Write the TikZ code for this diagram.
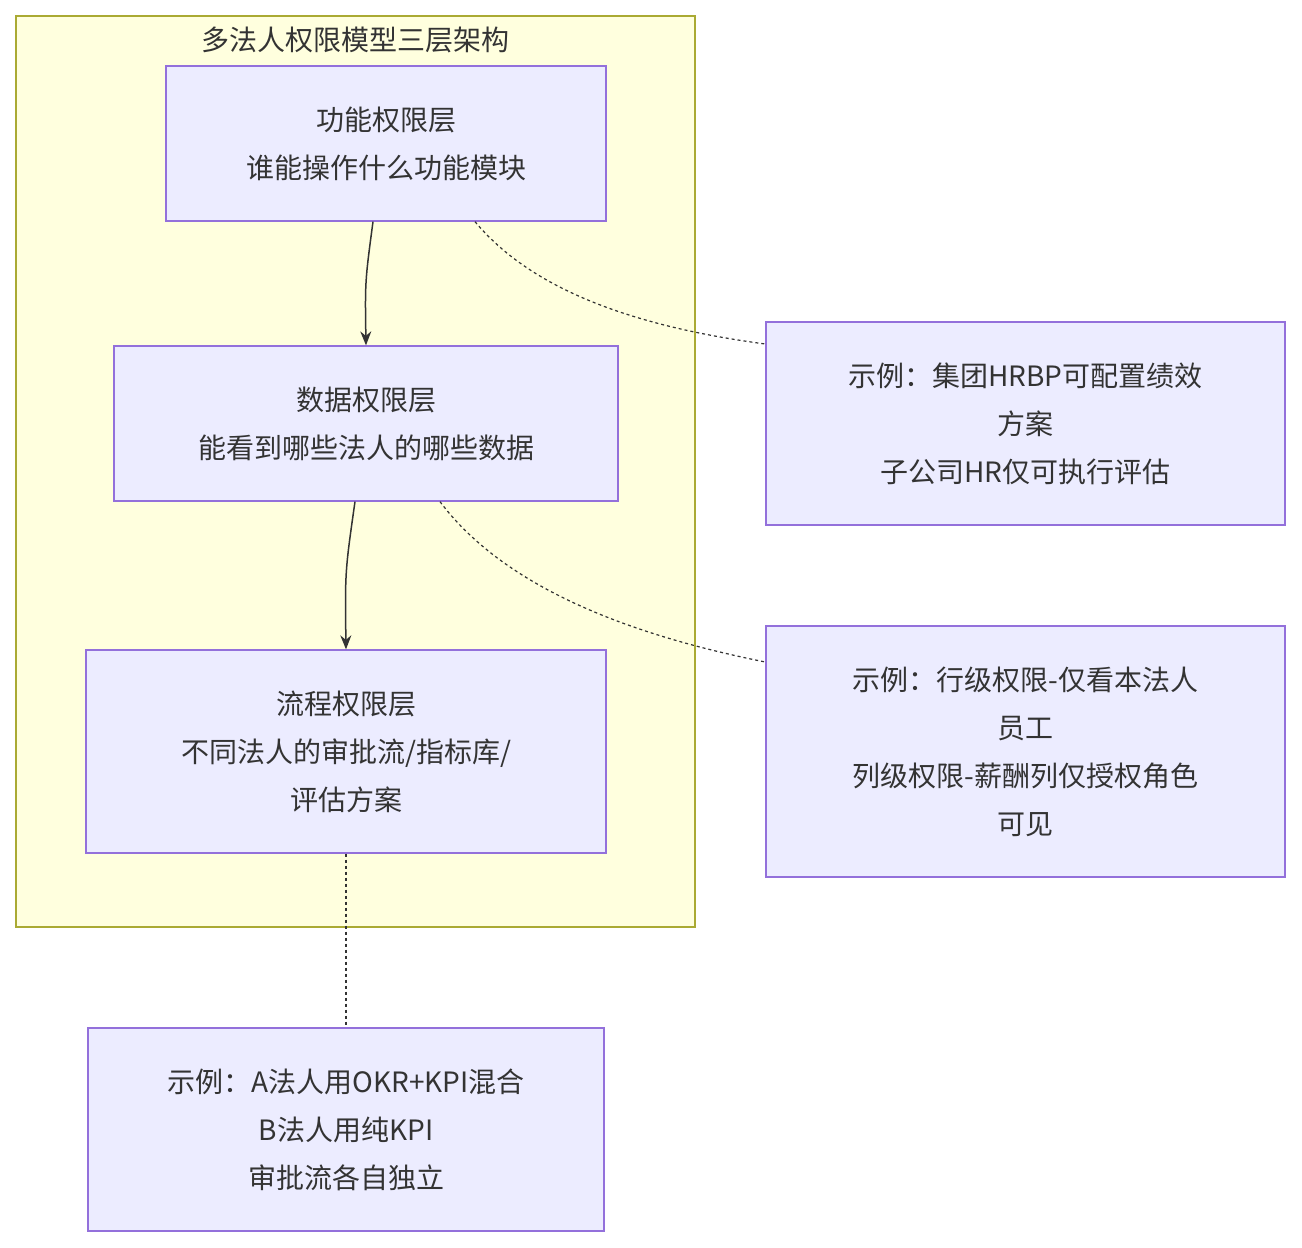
\documentclass[tikz,border=0pt]{standalone}
\usepackage{fontspec}
\setmainfont{Noto Sans CJK SC}
\usetikzlibrary{arrows.meta}
\definecolor{nfill}{HTML}{ECECFF}
\definecolor{nstroke}{HTML}{9370DB}
\definecolor{cfill}{HTML}{FFFFDE}
\definecolor{cstroke}{HTML}{AAAA33}
\definecolor{edge}{HTML}{333333}
\tikzset{
  box/.style={draw=nstroke,fill=nfill,line width=1.3pt,align=center,inner sep=0pt,
    font=\fontsize{28}{48}\selectfont,text=edge},
  flow/.style={draw=edge,line width=1.5pt,-{Stealth[length=14pt,width=11pt]}},
  note/.style={draw=edge,line width=1.2pt,dash pattern=on 3pt off 3pt},
}
\begin{document}
\begin{tikzpicture}[x=1pt,y=-1pt]
\useasboundingbox (0,0) rectangle (1302,1248);
\draw[draw=cstroke,fill=cfill,line width=1.3pt] (16,16) rectangle (695,927);
\node[font=\fontsize{28}{34}\selectfont,text=edge] (title) at (355,40) {多法人权限模型三层架构};
\node[box,minimum width=440pt,minimum height=155pt] (A) at (386,143.5) {功能权限层\\谁能操作什么功能模块};
\node[box,minimum width=504pt,minimum height=155pt] (B) at (366,423.5) {数据权限层\\能看到哪些法人的哪些数据};
\node[box,minimum width=520pt,minimum height=203pt] (C) at (346,751.5) {流程权限层\\不同法人的审批流/指标库/\\评估方案};
\node[box,minimum width=519pt,minimum height=203pt] (N1) at (1025.5,423.5) {示例：集团HRBP可配置绩效\\方案\\子公司HR仅可执行评估};
\node[box,minimum width=519pt,minimum height=251pt] (N2) at (1025.5,751.5) {示例：行级权限-仅看本法人\\员工\\列级权限-薪酬列仅授权角色\\可见};
\node[box,minimum width=516pt,minimum height=203pt] (N3) at (346,1129.5) {示例：A法人用OKR+KPI混合\\B法人用纯KPI\\审批流各自独立};
\draw[flow] (A.south) ++(-13,0) .. controls +(-8,60) .. (B.north);
\draw[flow] (B.south) ++(-11,0) .. controls +(-10,70) .. (C.north);
\draw[note] (A.south) ++(89,0) .. controls +(50,60) and +(-150,-20) .. (N1.west |- 0,344);
\draw[note] (B.south) ++(74,0) .. controls +(60,80) and +(-150,-30) .. (N2.west |- 0,662);
\draw[note] (C.south) -- (N3.north);
\end{tikzpicture}
\end{document}
